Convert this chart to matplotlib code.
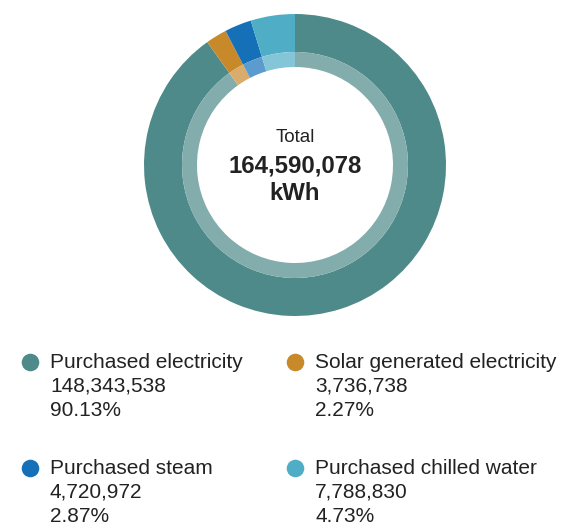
import matplotlib
matplotlib.use("Agg")
import matplotlib.pyplot as plt
from matplotlib.colors import to_rgb

plt.rcParams['font.family'] = ['Liberation Sans', 'DejaVu Sans']

categories = ["Purchased electricity", "Solar generated electricity",
              "Purchased steam", "Purchased chilled water"]
values = [148343538, 3736738, 4720972, 7788830]
percents = ["90.13%", "2.27%", "2.87%", "4.73%"]
value_labels = ["148,343,538", "3,736,738", "4,720,972", "7,788,830"]
colors = ["#4E8A89", "#C8892B", "#1570B8", "#4FAEC6"]
total_label = "164,590,078"
unit = "kWh"

def lighten(c, f=0.3):
    r, g, b = to_rgb(c)
    return (r + (1 - r) * f, g + (1 - g) * f, b + (1 - b) * f)

W, H = 563, 530
fig = plt.figure(figsize=(W / 100, H / 100), dpi=100)
ax = fig.add_axes([0, 0, 1, 1])

cx, cy = 295, H - 165
R_out, R_mid, R_in = 151, 113, 98

ax.pie(values, colors=colors, startangle=90, counterclock=False,
       radius=R_out, center=(cx, cy), frame=True,
       wedgeprops=dict(width=R_out - R_mid, linewidth=0))
ax.pie(values, colors=[lighten(c) for c in colors], startangle=90, counterclock=False,
       radius=R_mid, center=(cx, cy), frame=True,
       wedgeprops=dict(width=R_mid - R_in, linewidth=0))
ax.set_xlim(0, W)
ax.set_ylim(0, H)
ax.set_aspect('equal')
ax.axis('off')

tc = "#222222"
ax.text(cx, H - 137, "Total", ha='center', va='center', fontsize=13.5, color=tc)
ax.text(cx, H - 166, total_label, ha='center', va='center', fontsize=17.3,
        fontweight='bold', color=tc)
ax.text(cx, H - 193, unit, ha='center', va='center', fontsize=17.3,
        fontweight='bold', color=tc)

pos = [(30, 362), (295, 362), (30, 468), (295, 468)]
for i, (x, y) in enumerate(pos):
    ax.scatter([x], [H - y], s=160, color=colors[i], linewidths=0)
    ax.text(x + 20, H - y, categories[i], ha='left', va='center', fontsize=15, color=tc)
    ax.text(x + 20, H - y - 24, value_labels[i], ha='left', va='center', fontsize=15, color=tc)
    ax.text(x + 20, H - y - 48, percents[i], ha='left', va='center', fontsize=15, color=tc)

fig.savefig("out.png", dpi=100, facecolor='white')
